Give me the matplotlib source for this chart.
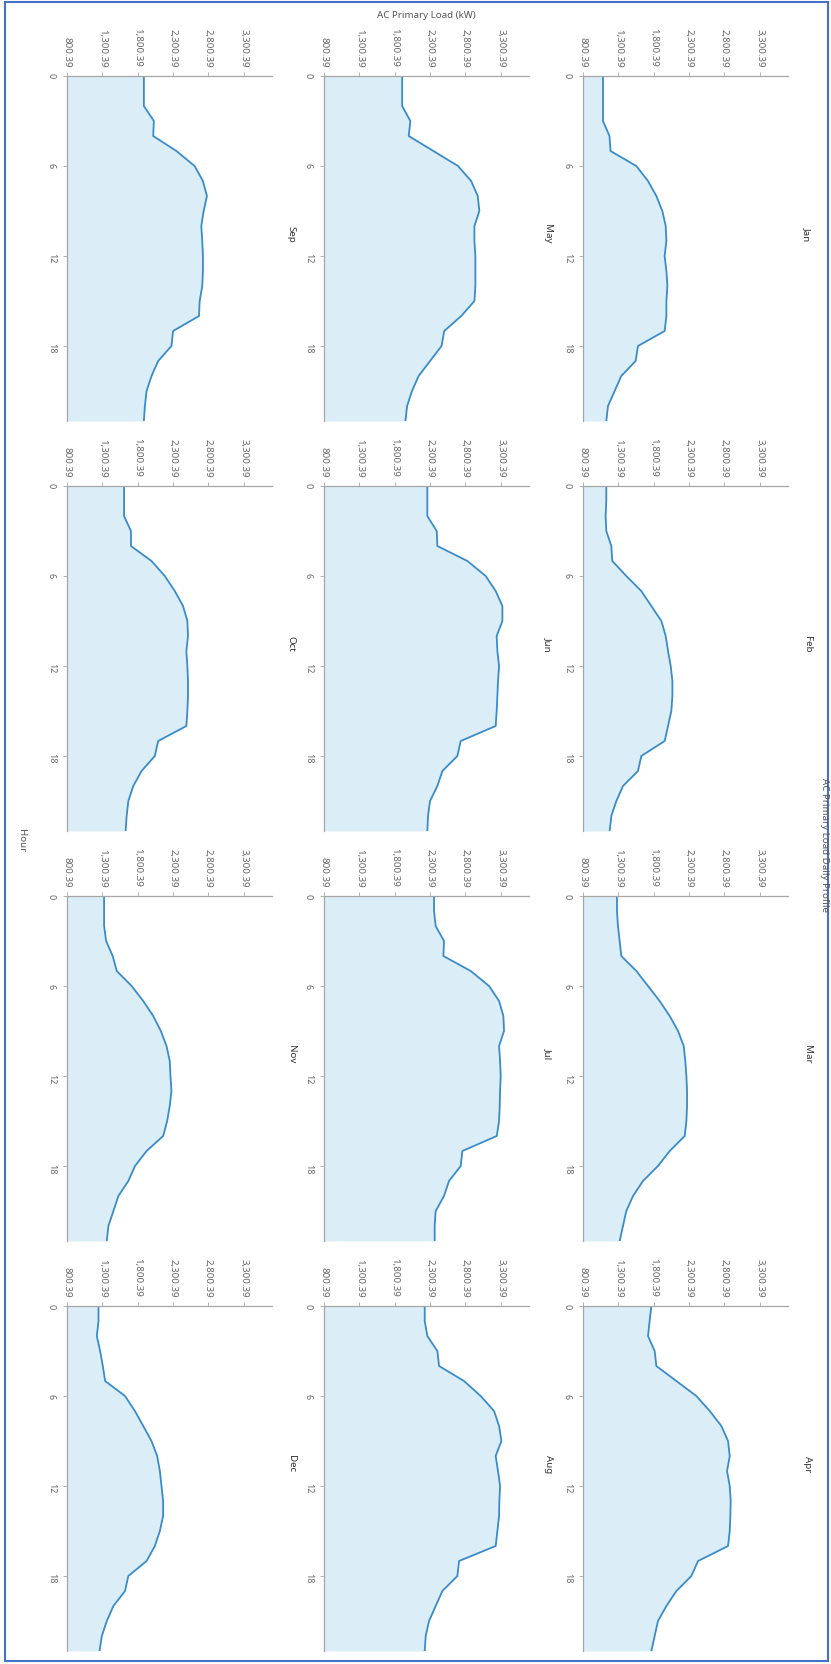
import matplotlib
matplotlib.use("Agg")
import matplotlib.pyplot as plt
from matplotlib.patches import Rectangle

# hourly AC primary load (kW)
hours = list(range(24))
months = ["Jan", "Feb", "Mar", "Apr", "May", "Jun",
          "Jul", "Aug", "Sep", "Oct", "Nov", "Dec"]

jan = [1083, 1083, 1083, 1083, 1175, 1190, 1555, 1720, 1838, 1923, 1970, 1980,
       1955, 1980, 1994, 1980, 1980, 1955, 1578, 1545, 1342, 1248, 1154, 1130]
feb = [1130, 1130, 1120, 1130, 1201, 1215, 1413, 1625, 1767, 1909, 1970, 2003,
       2041, 2065, 2065, 2050, 2003, 1956, 1625, 1578, 1366, 1272, 1201, 1177]
mar = [1281, 1281, 1295, 1319, 1342, 1555, 1720, 1885, 2027, 2145, 2225, 2248,
       2263, 2272, 2272, 2263, 2239, 2027, 1861, 1649, 1508, 1413, 1366, 1319]
apr = [1767, 1743, 1720, 1814, 1838, 2121, 2404, 2593, 2758, 2852, 2876, 2838,
       2876, 2890, 2885, 2876, 2852, 2428, 2333, 2121, 1980, 1861, 1814, 1767]
may = [1906, 1906, 1906, 2022, 1999, 2348, 2696, 2882, 2975, 2998, 2928, 2928,
       2942, 2942, 2942, 2928, 2742, 2501, 2463, 2301, 2139, 2045, 1976, 1952]
jun = [2262, 2262, 2262, 2395, 2404, 2829, 3088, 3229, 3324, 3324, 3243, 3253,
       3277, 3262, 3253, 3243, 3229, 2734, 2687, 2475, 2404, 2300, 2272, 2262]
jul = [2357, 2357, 2380, 2498, 2489, 2876, 3135, 3277, 3338, 3347, 3277, 3291,
       3300, 3291, 3286, 3277, 3244, 2758, 2734, 2569, 2498, 2380, 2366, 2366]
aug = [2225, 2225, 2262, 2404, 2428, 2781, 3017, 3206, 3277, 3310, 3229, 3262,
       3291, 3281, 3277, 3253, 3229, 2711, 2687, 2475, 2380, 2286, 2239, 2225]
sep = [1888, 1888, 1888, 2029, 2020, 2348, 2606, 2723, 2780, 2734, 2700, 2714,
       2723, 2723, 2714, 2677, 2668, 2301, 2278, 2090, 1996, 1926, 1902, 1888]
oct_ = [1607, 1607, 1607, 1705, 1705, 1996, 2184, 2325, 2442, 2503, 2512, 2489,
        2503, 2512, 2512, 2503, 2489, 2090, 2043, 1855, 1738, 1668, 1644, 1630]
nov = [1325, 1325, 1325, 1354, 1447, 1504, 1715, 1879, 2020, 2128, 2208, 2254,
       2264, 2278, 2254, 2217, 2161, 1926, 1762, 1668, 1527, 1457, 1386, 1363]
dec = [1246, 1246, 1222, 1269, 1307, 1340, 1621, 1761, 1879, 1996, 2076, 2114,
       2137, 2160, 2160, 2114, 2043, 1926, 1668, 1621, 1457, 1363, 1293, 1260]

loads = [jan, feb, mar, apr, may, jun, jul, aug, sep, oct_, nov, dec]
load_ticks = [800.39, 1300.39, 1800.39, 2300.39, 2800.39, 3300.39]
hour_ticks = [0, 6, 12, 18]

plt.rcParams["font.family"] = ["Noto Sans", "DejaVu Sans"]

W, H = 831, 1665
fig = plt.figure(figsize=(W / 100, H / 100), dpi=100)

# the chart is shown turned a quarter turn clockwise
col_left = [583, 324, 67]
row_top = [77, 487, 897, 1307]
pw, ph = 205, 345

line_c = "#3a8cc8"
fill_c = "#dbeef8"
axis_c = "#a6a6a6"
text_c = "#666666"

for i, (name, vals) in enumerate(zip(months, loads)):
    r, c = divmod(i, 4)
    left, top = col_left[r], row_top[c]
    ax = fig.add_axes([left / W, 1 - (top + ph) / H, pw / W, ph / H])
    ax.fill_betweenx(hours, load_ticks[0], vals, color=fill_c, lw=0)
    ax.plot(vals, hours, color=line_c, lw=1.3)
    ax.set_xlim(load_ticks[0], load_ticks[0] + 2900)
    ax.set_ylim(23, 0)

    ax.xaxis.tick_top()
    ax.set_xticks(load_ticks)
    ax.set_xticklabels([f"{t:,.2f}" for t in load_ticks], rotation=-90)
    ax.set_yticks(hour_ticks)
    ax.set_yticklabels([str(h) for h in hour_ticks], rotation=-90)
    ax.tick_params(axis="x", length=3, width=0.6, pad=4, labelsize=7,
                   colors=axis_c, labelcolor=text_c)
    ax.tick_params(axis="y", length=3, width=0.6, pad=5, labelsize=6.5,
                   colors=axis_c, labelcolor=text_c)
    for s in ["right", "bottom"]:
        ax.spines[s].set_visible(False)
    for s in ["top", "left"]:
        ax.spines[s].set_color(axis_c)
        ax.spines[s].set_linewidth(0.9)
    ax.set_facecolor("none")

    ax.text(1 + 19 / pw, 1 - 157 / ph, name, transform=ax.transAxes,
            rotation=-90, ha="center", va="center", fontsize=7,
            fontweight="bold", color="#333333")

fig.text(426 / W, 1 - 15 / H, "AC Primary Load (kW)", ha="center", va="center",
         fontsize=7, color="#555555")
fig.text(22 / W, 1 - 841 / H, "Hour", ha="center", va="center",
         rotation=-90, fontsize=7, color="#555555")
fig.text(825 / W, 1 - 845 / H, "AC Primary Load Daily Profile", ha="center",
         va="center", rotation=-90, fontsize=7, color="#555555")

fig.patches.append(Rectangle((5 / W, 3 / H), 823 / W, 1659 / H,
                             transform=fig.transFigure, fill=False,
                             edgecolor="#4472c4", lw=1.5))

fig.savefig("out.png", dpi=100)
